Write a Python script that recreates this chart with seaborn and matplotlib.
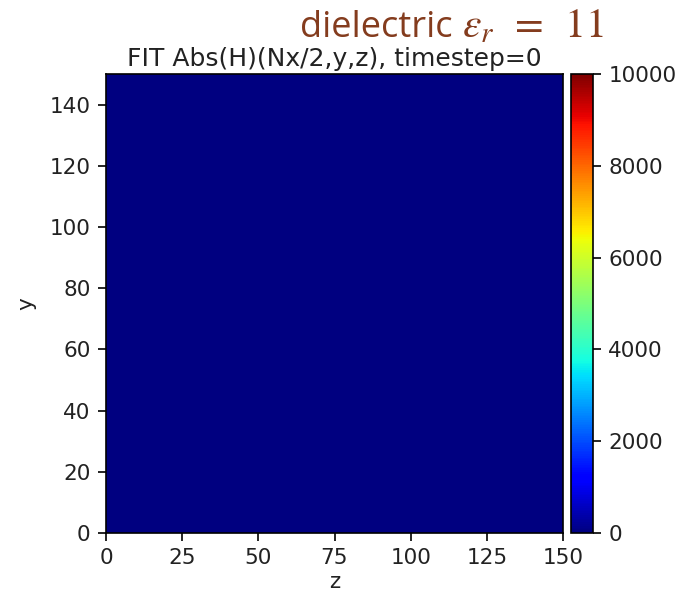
import numpy as np
import matplotlib
matplotlib.use("Agg")
import matplotlib.pyplot as plt
import seaborn as sns

# Data: field magnitude at timestep 0 (all zeros), 150 x 150 grid
ny, nz = 150, 150
field = np.zeros((ny, nz))
vmin, vmax = 0, 10000
xticks = [0, 25, 50, 75, 100, 125, 150]
yticks = [0, 20, 40, 60, 80, 100, 120, 140]
cbar_ticks = [0, 2000, 4000, 6000, 8000, 10000]
title = "FIT Abs(H)(Nx/2,y,z), timestep=0"
overlay_word = "dielectric"
overlay_math = r"$\varepsilon_r\ \,=\ \,11$"

sns.set_style("white")
plt.rcParams['font.family'] = ['DejaVu Sans']

fig = plt.figure(figsize=(6.8, 5.95), dpi=100)
ax = fig.add_axes([106/680, 1-533/595, (563-106)/680, (533-74)/595])
cax = fig.add_axes([571/680, 1-533/595, (593-571)/680, (533-74)/595])

sns.heatmap(field, ax=ax, cbar_ax=cax, cmap="jet", vmin=vmin, vmax=vmax,
            xticklabels=False, yticklabels=False,
            cbar_kws={"ticks": cbar_ticks})
ax.invert_yaxis()
ax.set_xlim(0, nz)
ax.set_ylim(0, ny)
ax.set_xticks(xticks)
ax.set_xticklabels([str(t) for t in xticks])
ax.set_yticks(yticks)
ax.set_yticklabels([str(t) for t in yticks], rotation=0)
for s in ax.spines.values():
    s.set_visible(True)
    s.set_color("black")
    s.set_linewidth(1.2)
ax.tick_params(axis="both", which="both", length=6, width=1.2, direction="out",
               bottom=True, left=True, labelsize=15.5, colors="black", pad=5,
               labelcolor="#222222")
ax.set_xlabel("z", fontsize=15.5, color="#222222", labelpad=3)
ax.set_ylabel("y", fontsize=15.5, color="#222222", labelpad=10)
ax.set_title(title, fontsize=18, pad=6, color="#222222")

cb = ax.collections[0].colorbar
cb.outline.set_visible(True)
cb.outline.set_linewidth(1.2)
cb.outline.set_edgecolor("black")
cax.tick_params(length=6, width=1.2, labelsize=15.5, colors="black", right=True,
                labelcolor="#222222", pad=5)
cax.set_yticklabels([str(t) for t in cbar_ticks])

fig.text(300/680, 1-37/595, overlay_word, fontsize=26, color="#843c1e",
         family=["Open Sans", "DejaVu Sans"], va="baseline", ha="left")
fig.text(462/680, 1-37/595, overlay_math, fontsize=30, color="#843c1e",
         va="baseline", ha="left", math_fontfamily="stix")

fig.savefig("out.png", dpi=100)
